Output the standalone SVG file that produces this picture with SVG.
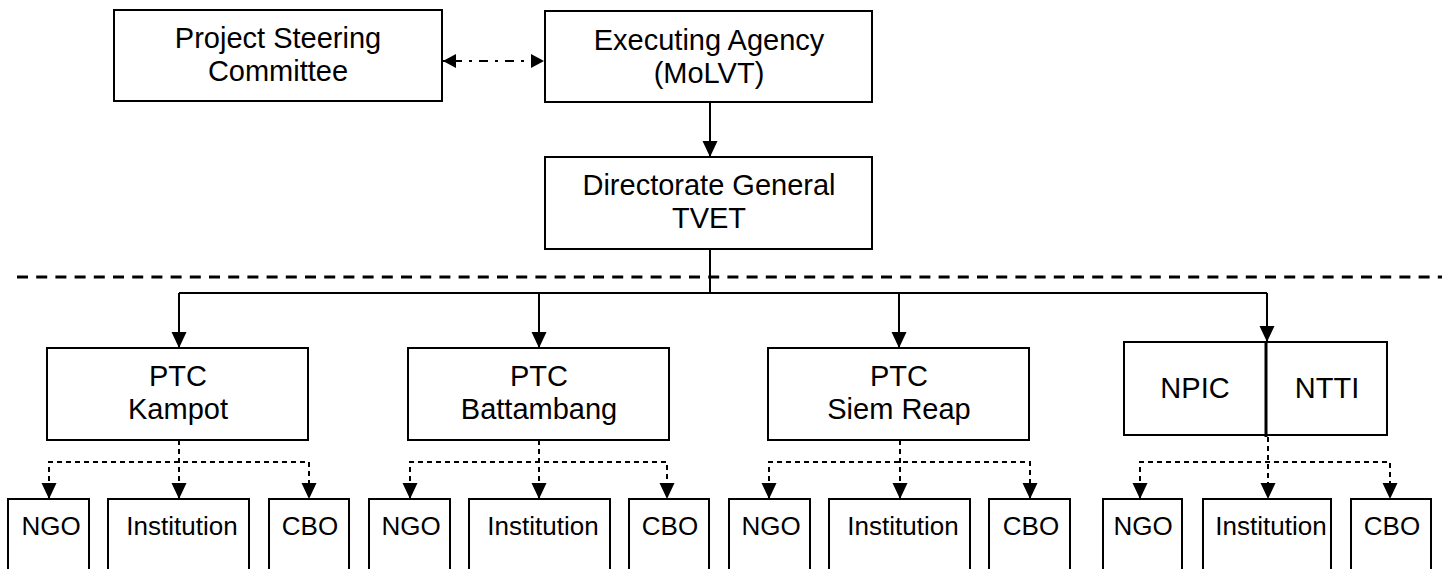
<svg xmlns="http://www.w3.org/2000/svg" width="1442" height="569" viewBox="0 0 1442 569">
<style>
.box{fill:#fff;stroke:#000;stroke-width:2}
.t{font-family:"Liberation Sans",Arial,sans-serif;font-size:29px;fill:#000;text-anchor:middle}
.s{font-family:"Liberation Sans",Arial,sans-serif;font-size:26px;fill:#000;text-anchor:middle}
.ln{fill:none;stroke:#000;stroke-width:2}
.dl{fill:none;stroke:#000;stroke-width:2;stroke-dasharray:5 4}
.dd{fill:none;stroke:#000;stroke-width:2;stroke-dasharray:3 7 9 7}
.sep{fill:none;stroke:#000;stroke-width:3;stroke-dasharray:11 8.2}
</style>
<defs>
<marker id="ah" markerUnits="userSpaceOnUse" markerWidth="16" markerHeight="16" refX="16" refY="7.5" orient="auto">
<path d="M0,0 L16,7.5 L0,15 z" fill="#000"/>
</marker>
<marker id="sh" markerUnits="userSpaceOnUse" markerWidth="13" markerHeight="14" refX="13" refY="7" orient="auto">
<path d="M0,0 L13,7 L0,14 z" fill="#000"/>
</marker>
<marker id="shs" markerUnits="userSpaceOnUse" markerWidth="13" markerHeight="14" refX="0" refY="7" orient="auto">
<path d="M13,0 L0,7 L13,14 z" fill="#000"/>
</marker>
</defs>

<g id="connectors">
<line class="dd" x1="443" y1="61" x2="544" y2="61" marker-start="url(#shs)" marker-end="url(#sh)"/>
<line class="ln" x1="710" y1="102" x2="710" y2="157" marker-end="url(#ah)"/>
<line class="sep" x1="17" y1="277" x2="1442" y2="277"/>
<polyline class="ln" points="710,249 710,293"/>
<polyline class="ln" points="179,293 1267,293"/>
<line class="ln" x1="179" y1="293" x2="179" y2="348" marker-end="url(#ah)"/>
<line class="ln" x1="539" y1="293" x2="539" y2="348" marker-end="url(#ah)"/>
<line class="ln" x1="899" y1="293" x2="899" y2="348" marker-end="url(#ah)"/>
<line class="ln" x1="1267" y1="293" x2="1267" y2="342" marker-end="url(#ah)"/>

<line class="dl" x1="179" y1="440" x2="179" y2="499" marker-end="url(#ah)"/>
<polyline class="dl" points="49,499 49,462 309,462 309,499"/>
<line class="ln" x1="49" y1="485" x2="49" y2="499" marker-end="url(#ah)" stroke-opacity="0"/>
<line class="ln" x1="309" y1="485" x2="309" y2="499" marker-end="url(#ah)" stroke-opacity="0"/>

<line class="dl" x1="539" y1="440" x2="539" y2="499" marker-end="url(#ah)"/>
<polyline class="dl" points="410,499 410,462 667,462 667,499"/>
<line class="ln" x1="410" y1="485" x2="410" y2="499" marker-end="url(#ah)" stroke-opacity="0"/>
<line class="ln" x1="667" y1="485" x2="667" y2="499" marker-end="url(#ah)" stroke-opacity="0"/>

<line class="dl" x1="900" y1="440" x2="900" y2="499" marker-end="url(#ah)"/>
<polyline class="dl" points="769,499 769,462 1030,462 1030,499"/>
<line class="ln" x1="769" y1="485" x2="769" y2="499" marker-end="url(#ah)" stroke-opacity="0"/>
<line class="ln" x1="1030" y1="485" x2="1030" y2="499" marker-end="url(#ah)" stroke-opacity="0"/>

<line class="dl" x1="1268" y1="437" x2="1268" y2="499" marker-end="url(#ah)"/>
<polyline class="dl" points="1140,499 1140,462 1390,462 1390,499"/>
<line class="ln" x1="1140" y1="485" x2="1140" y2="499" marker-end="url(#ah)" stroke-opacity="0"/>
<line class="ln" x1="1390" y1="485" x2="1390" y2="499" marker-end="url(#ah)" stroke-opacity="0"/>
</g>

<g id="psc"><rect class="box" x="114" y="10" width="328" height="91"/>
<text class="t" x="278" y="48">Project Steering</text><text class="t" x="278" y="81">Committee</text></g>
<g id="ea"><rect class="box" x="545" y="11" width="327" height="91"/>
<text class="t" x="709" y="50">Executing Agency</text><text class="t" x="709" y="83">(MoLVT)</text></g>
<g id="dg"><rect class="box" x="545" y="157" width="327" height="92"/>
<text class="t" x="709" y="195">Directorate General</text><text class="t" x="709" y="228">TVET</text></g>

<g id="ptc-kampot"><rect class="box" x="47" y="348" width="261" height="92"/>
<text class="t" x="178" y="386">PTC</text><text class="t" x="178" y="419">Kampot</text></g>
<g id="ptc-battambang"><rect class="box" x="408" y="348" width="261" height="92"/>
<text class="t" x="539" y="386">PTC</text><text class="t" x="539" y="419">Battambang</text></g>
<g id="ptc-siemreap"><rect class="box" x="768" y="348" width="261" height="92"/>
<text class="t" x="899" y="386">PTC</text><text class="t" x="899" y="419">Siem Reap</text></g>
<g id="npic-ntti"><rect class="box" x="1124" y="342" width="263" height="93"/>
<line x1="1266" y1="342" x2="1266" y2="437" stroke="#000" stroke-width="3"/>
<text class="t" x="1195" y="398">NPIC</text><text class="t" x="1327" y="398">NTTI</text></g>

<g id="k-ngo"><rect class="box" x="8" y="499" width="81" height="80"/><text class="s" x="51" y="535">NGO</text></g>
<g id="k-inst"><rect class="box" x="108" y="499" width="141" height="80"/><text class="s" x="182" y="535">Institution</text></g>
<g id="k-cbo"><rect class="box" x="269" y="499" width="80" height="80"/><text class="s" x="310" y="535">CBO</text></g>

<g id="b-ngo"><rect class="box" x="369" y="499" width="81" height="80"/><text class="s" x="411" y="535">NGO</text></g>
<g id="b-inst"><rect class="box" x="469" y="499" width="141" height="80"/><text class="s" x="543" y="535">Institution</text></g>
<g id="b-cbo"><rect class="box" x="629" y="499" width="80" height="80"/><text class="s" x="670" y="535">CBO</text></g>

<g id="s-ngo"><rect class="box" x="729" y="499" width="81" height="80"/><text class="s" x="771" y="535">NGO</text></g>
<g id="s-inst"><rect class="box" x="829" y="499" width="141" height="80"/><text class="s" x="903" y="535">Institution</text></g>
<g id="s-cbo"><rect class="box" x="989" y="499" width="81" height="80"/><text class="s" x="1031" y="535">CBO</text></g>

<g id="n-ngo"><rect class="box" x="1103" y="499" width="79" height="80"/><text class="s" x="1143" y="535">NGO</text></g>
<g id="n-inst"><rect class="box" x="1203" y="499" width="128" height="80"/><text class="s" x="1271" y="535">Institution</text></g>
<g id="n-cbo"><rect class="box" x="1351" y="499" width="80" height="80"/><text class="s" x="1392" y="535">CBO</text></g>
</svg>
